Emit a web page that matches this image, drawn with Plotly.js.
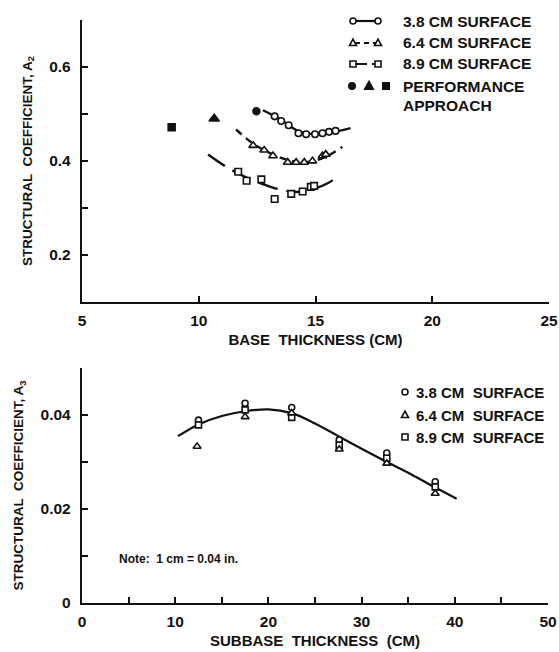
<!DOCTYPE html>
<html>
<head>
<meta charset="utf-8">
<script src="https://cdn.plot.ly/plotly-3.0.1.min.js"></script>
<style>html,body{margin:0;padding:0;background:#fff;}#chart{width:559px;height:652px;}</style>
</head>
<body>
<div id="chart"></div>
<script>
// ---------- Top chart: base thickness vs A2 ----------
const base38_x = [13.25, 13.53, 13.85, 14.27, 14.6, 14.98, 15.3, 15.58, 15.86];
const base38_y = [0.495, 0.485, 0.476, 0.459, 0.457, 0.457, 0.459, 0.462, 0.464];
const base64_x = [12.33, 12.8, 13.18, 13.81, 14.17, 14.52, 14.87, 15.3, 15.44];
const base64_y = [0.433, 0.423, 0.411, 0.397, 0.397, 0.397, 0.400, 0.411, 0.414];
const base89_x = [11.69, 12.05, 12.68, 13.25, 13.96, 14.45, 14.8, 14.94];
const base89_y = [0.377, 0.358, 0.361, 0.319, 0.330, 0.335, 0.345, 0.347];
// fitted curves
const fit38_x = [12.75, 13.3, 13.8, 14.3, 15.0, 15.6, 16.5];
const fit38_y = [0.508, 0.494, 0.478, 0.463, 0.457, 0.460, 0.470];
const fit64_x = [11.6, 12.3, 13.0, 13.7, 14.4, 15.0, 15.6, 16.15];
const fit64_y = [0.467, 0.438, 0.418, 0.404, 0.397, 0.401, 0.413, 0.430];
const fit89_x = [10.4, 11.2, 12.0, 12.8, 13.5, 14.2, 14.9, 15.5, 15.9];
const fit89_y = [0.414, 0.387, 0.366, 0.350, 0.339, 0.334, 0.340, 0.352, 0.365];
// performance approach (filled symbols)
const perf_x = [12.47, 10.66, 8.84];
const perf_y = [0.506, 0.490, 0.472];
const perf_sym = ['circle', 'triangle-up', 'square'];
const perf_size = [7, 9, 7];

// ---------- Bottom chart: subbase thickness vs A3 ----------
const sub_x = [12.5, 17.5, 22.5, 27.6, 32.7, 37.9];
const sub38_y = [0.0389, 0.0425, 0.0416, 0.0347, 0.0319, 0.0258];
const sub64_y = [0.0333, 0.0396, 0.0404, 0.0327, 0.0297, 0.0233];
const sub89_y = [0.0379, 0.0411, 0.0395, 0.0336, 0.0308, 0.0247];
const sub64_x = [12.35, 17.5, 22.5, 27.6, 32.7, 37.9];
const fitSub_x = [10.3, 12.5, 15, 17.5, 20, 22.5, 25, 27.5, 30, 32.5, 35, 37.5, 40.2];
const fitSub_y = [0.0355, 0.0380, 0.0398, 0.0408, 0.0412, 0.0404, 0.0382, 0.0355, 0.0328, 0.0302, 0.0277, 0.0250, 0.0222];

const legendTop = ['3.8 CM SURFACE', '6.4 CM SURFACE', '8.9 CM SURFACE', 'PERFORMANCE', 'APPROACH'];
const legendBottom = ['3.8 CM  SURFACE', '6.4 CM  SURFACE', '8.9 CM  SURFACE'];

const W = 559, H = 652;
const PX = p => p / W;
const PY = p => 1 - p / H;
const FONT = 'Liberation Sans, Arial, sans-serif';
const INK = '#111';

const hollow = (sym, size) => ({symbol: sym, size: size, color: '#fff', line: {color: INK, width: 1.6}});

const traces = [
  {x: fit38_x, y: fit38_y, mode: 'lines', line: {color: INK, width: 2.4, shape: 'spline'}, xaxis: 'x', yaxis: 'y'},
  {x: fit64_x, y: fit64_y, mode: 'lines', line: {color: INK, width: 2.4, shape: 'spline', dash: '7px,6px'}, xaxis: 'x', yaxis: 'y'},
  {x: fit89_x, y: fit89_y, mode: 'lines', line: {color: INK, width: 2.4, shape: 'spline', dash: '20px,9px'}, xaxis: 'x', yaxis: 'y'},
  {x: base38_x, y: base38_y, mode: 'markers', marker: hollow('circle', 6.5), xaxis: 'x', yaxis: 'y'},
  {x: base64_x, y: base64_y, mode: 'markers', marker: hollow('triangle-up', 7.5), xaxis: 'x', yaxis: 'y'},
  {x: base89_x, y: base89_y, mode: 'markers', marker: hollow('square', 6.5), xaxis: 'x', yaxis: 'y'},
  {x: perf_x, y: perf_y, mode: 'markers', marker: {symbol: perf_sym, size: perf_size, color: INK, opacity: 1, line: {color: INK, width: 1.5}}, xaxis: 'x', yaxis: 'y'},
  {x: fitSub_x, y: fitSub_y, mode: 'lines', line: {color: INK, width: 2.2, shape: 'spline'}, xaxis: 'x2', yaxis: 'y2'},
  {x: sub_x, y: sub38_y, mode: 'markers', marker: hollow('circle', 6), xaxis: 'x2', yaxis: 'y2'},
  {x: sub_x, y: sub89_y, mode: 'markers', marker: hollow('square', 6), xaxis: 'x2', yaxis: 'y2'},
  {x: sub64_x, y: sub64_y, mode: 'markers', marker: hollow('triangle-up', 7), xaxis: 'x2', yaxis: 'y2'}
];

const axisBase = {
  showline: true, linecolor: INK, linewidth: 2.2, showgrid: false, zeroline: false,
  ticks: 'inside', ticklen: 6, tickwidth: 2, tickcolor: INK,
  tickfont: {family: FONT, size: 15.5, color: INK, weight: 'bold'},
  ticklabeloverflow: 'allow',
  fixedrange: true
};
const xTitleFont = {family: FONT, size: 15, color: INK, weight: 'bold'};
const yTitleFont = {family: FONT, size: 13.5, color: INK, weight: 'bold'};

const layout = {
  width: W, height: H,
  margin: {l: 0, r: 0, t: 0, b: 0},
  paper_bgcolor: '#fff', plot_bgcolor: '#fff',
  showlegend: false,
  xaxis: Object.assign({}, axisBase, {
    domain: [PX(82), PX(549)], anchor: 'y', range: [5, 25], tick0: 5, dtick: 5,
    ticklabelstandoff: 3,
    title: {text: 'BASE  THICKNESS (CM)', font: xTitleFont, standoff: 7}
  }),
  yaxis: Object.assign({}, axisBase, {
    domain: [PY(302), PY(20)], anchor: 'x', range: [0.1, 0.7], tick0: 0.2, dtick: 0.2,
    minor: {dtick: 0.1, tick0: 0.1, ticks: 'inside', ticklen: 6, tickwidth: 2, tickcolor: INK},
    ticklabelstandoff: 6,
    title: {text: 'STRUCTURAL  COEFFICIENT, A<sub>2</sub>', font: yTitleFont, standoff: 14}
  }),
  xaxis2: Object.assign({}, axisBase, {
    domain: [PX(82), PX(548)], anchor: 'y2', range: [0, 50], tick0: 0, dtick: 10,
    minor: {dtick: 5, ticks: 'inside', ticklen: 6, tickwidth: 2, tickcolor: INK},
    ticklabelstandoff: 3,
    title: {text: 'SUBBASE  THICKNESS  (CM)', font: xTitleFont, standoff: 7}
  }),
  yaxis2: Object.assign({}, axisBase, {
    domain: [PY(603), PY(368)], anchor: 'x2', range: [0, 0.05], tick0: 0, dtick: 0.02,
    minor: {dtick: 0.01, ticks: 'inside', ticklen: 6, tickwidth: 2, tickcolor: INK},
    ticklabelstandoff: 6,
    title: {text: 'STRUCTURAL  COEFFICIENT, A<sub>3</sub>', font: yTitleFont, standoff: 14}
  }),
  shapes: [],
  annotations: []
};

// ---- legend helpers (decoration, positioned in page pixels) ----
function mk(type, cx, cy, r, filled) {
  const base = {xref: 'paper', yref: 'paper', xsizemode: 'pixel', ysizemode: 'pixel',
    xanchor: PX(cx), yanchor: PY(cy), line: {color: INK, width: 1.6},
    fillcolor: filled ? INK : '#fff', layer: 'above'};
  if (type === 'circle') return Object.assign(base, {type: 'circle', x0: -r, x1: r, y0: -r, y1: r});
  if (type === 'square') return Object.assign(base, {type: 'rect', x0: -r, x1: r, y0: -r, y1: r});
  return Object.assign(base, {type: 'path', path: `M${-r - 0.5},${-r + 0.5} L${r + 0.5},${-r + 0.5} L0,${r + 0.8} Z`});
}
function seg(x0, x1, y, dash) {
  return {type: 'line', xref: 'paper', yref: 'paper', x0: PX(x0), x1: PX(x1), y0: PY(y), y1: PY(y),
    line: {color: INK, width: 2.2, dash: dash}, layer: 'above'};
}
function label(text, x, y, size) {
  return {text: text, xref: 'paper', yref: 'paper', x: PX(x), y: PY(y), xanchor: 'left', yanchor: 'middle',
    showarrow: false, font: {family: FONT, size: size, color: INK, weight: 'bold'}};
}

const topRows = [21, 43, 64];
const topSyms = ['circle', 'triangle', 'square'];
const topDash = ['solid', '5px,4px', '12px,5px'];
topRows.forEach((y, i) => {
  layout.shapes.push(seg(355, 377, y, topDash[i]));
  layout.shapes.push(mk(topSyms[i], 353, y, 3, false));
  layout.shapes.push(mk(topSyms[i], 378, y, 3, false));
  layout.annotations.push(label(legendTop[i], 401, y, 15.5));
});
layout.shapes.push(mk('circle', 352, 86, 3.2, true));
layout.shapes.push(mk('triangle', 369, 86, 3.8, true));
layout.shapes.push(mk('square', 386, 86, 3.2, true));
layout.annotations.push(label(legendTop[3], 401, 86, 15.5));
layout.annotations.push(label(legendTop[4], 401, 106, 15.5));

const botRows = [392, 415, 437];
botRows.forEach((y, i) => {
  layout.shapes.push(mk(topSyms[i], 405, y, 3, false));
  layout.annotations.push(label(legendBottom[i], 414, y, 15));
});
layout.annotations.push(label('Note:  1 cm = 0.04 in.', 117, 559, 12));

Plotly.newPlot('chart', traces, layout, {staticPlot: true, displayModeBar: false});
</script>
</body>
</html>
